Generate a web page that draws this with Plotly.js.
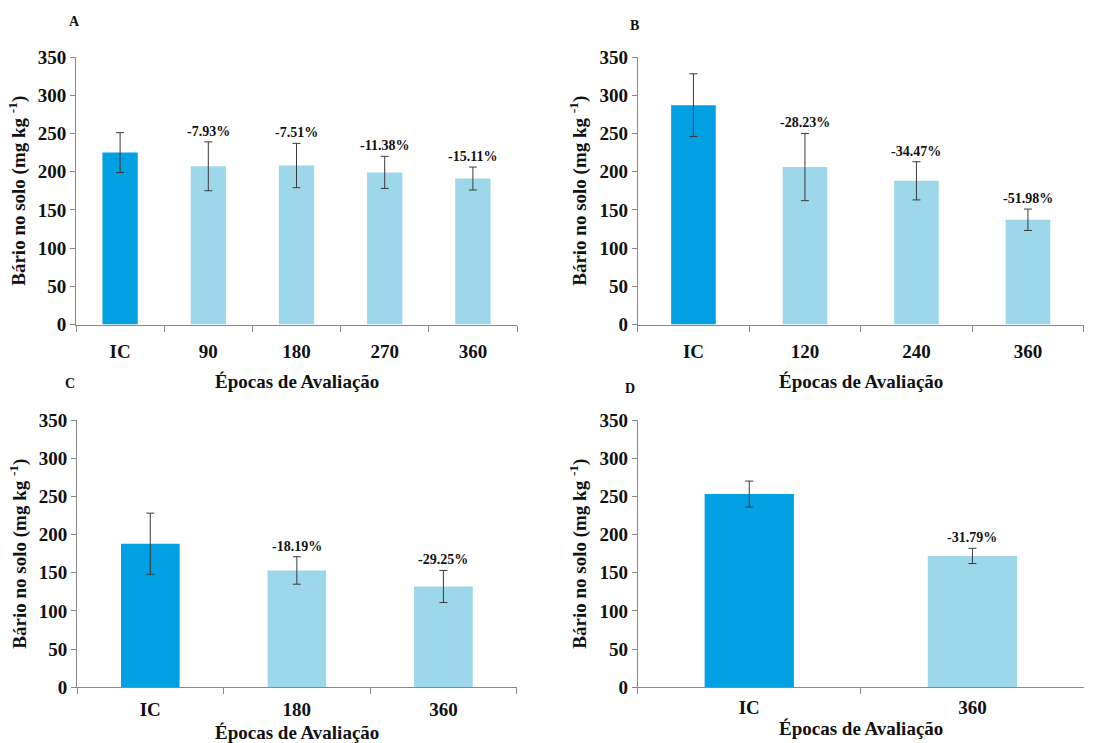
<!DOCTYPE html>
<html>
<head>
<meta charset="utf-8">
<script src="https://cdn.plot.ly/plotly-3.0.1.min.js"></script>
<style>html,body{margin:0;padding:0;background:#fff;}#chart{width:1105px;height:743px;}</style>
</head>
<body>
<div id="chart"></div>
<script>
// Panel A
var catsA = ['IC', '90', '180', '270', '360'];
var valsA = [225, 207, 208, 199, 191];
var errA = [26, 32, 29, 21, 15];
var pctA = ['', '-7.93%', '-7.51%', '-11.38%', '-15.11%'];
// Panel B
var catsB = ['IC', '120', '240', '360'];
var valsB = [287, 206, 188, 137];
var errB = [41, 44, 25, 14];
var pctB = ['', '-28.23%', '-34.47%', '-51.98%'];
// Panel C
var catsC = ['IC', '180', '360'];
var valsC = [188, 153, 132];
var errC = [40, 18, 21];
var pctC = ['', '-18.19%', '-29.25%'];
// Panel D
var catsD = ['IC', '360'];
var valsD = [253, 172];
var errD = [17, 10];
var pctD = ['', '-31.79%'];

var panelLabels = ['A', 'B', 'C', 'D'];
var xTitle = 'Épocas de Avaliação';
var yTitle = 'Bário no solo (mg kg <sup>-1</sup>)';

var DARK = '#00A0E3', LIGHT = '#9DD8EA';
var FONT = 'Liberation Serif, Times New Roman, serif';
var W = 1105, H = 743;

var panels = [
  {cats: catsA, vals: valsA, err: errA, pct: pctA, x0: 76, x1: 517, y0: 57, y1: 324.5, xtY: 381, tstand: 10},
  {cats: catsB, vals: valsB, err: errB, pct: pctB, x0: 637.7, x1: 1083.7, y0: 57, y1: 324.5, xtY: 381, tstand: 10},
  {cats: catsC, vals: valsC, err: errC, pct: pctC, x0: 77, x1: 516.7, y0: 420, y1: 687.3, xtY: 732, tstand: 5},
  {cats: catsD, vals: valsD, err: errD, pct: pctD, x0: 637.7, x1: 1084, y0: 420, y1: 687.3, xtY: 728, tstand: 3}
];
var labelPos = [[74, 21], [634, 25], [70, 383], [630, 388]];

var data = [], annotations = [];
var layout = {
  width: W, height: H,
  margin: {l: 0, r: 0, t: 0, b: 0},
  paper_bgcolor: '#fff', plot_bgcolor: '#fff',
  showlegend: false,
  font: {family: FONT, color: '#111'},
  bargap: 0.6
};

panels.forEach(function (p, i) {
  var sfx = i === 0 ? '' : String(i + 1);
  var xa = 'x' + sfx, ya = 'y' + sfx;
  var colors = p.cats.map(function (c, k) { return k === 0 ? DARK : LIGHT; });
  data.push({
    type: 'bar', x: p.cats, y: p.vals, xaxis: xa, yaxis: ya,
    marker: {color: colors, line: {width: 0}},
    error_y: {type: 'data', array: p.err, visible: true, color: '#3a3a3a', thickness: 1, width: 4},
    hoverinfo: 'x+y'
  });
  layout['xaxis' + sfx] = {
    domain: [p.x0 / W, p.x1 / W], anchor: ya,
    type: 'category', categoryorder: 'array', categoryarray: p.cats,
    range: [-0.5, p.cats.length - 0.5], autorange: false,
    showgrid: false, zeroline: false,
    showline: true, linecolor: '#8a8a8a', linewidth: 1,
    ticks: 'outside', tickson: 'boundaries', ticklen: 6, tickcolor: '#8a8a8a',
    tickangle: 0, ticklabelstandoff: p.tstand,
    tickfont: {family: FONT, size: 19, color: '#111', weight: 'bold'},
    fixedrange: true
  };
  layout['yaxis' + sfx] = {
    domain: [1 - p.y1 / H, 1 - p.y0 / H], anchor: xa,
    range: [0, 350], autorange: false, dtick: 50, tick0: 0, showgrid: false, zeroline: false,
    showline: true, linecolor: '#8a8a8a', linewidth: 1,
    ticks: 'outside', ticklen: 5, tickcolor: '#8a8a8a',
    tickfont: {family: FONT, size: 19, color: '#111', weight: 'bold'},
    title: {text: yTitle, font: {family: FONT, size: 19, color: '#111', weight: 'bold'}, standoff: 7},
    fixedrange: true
  };
  // percentage labels (x given as category index)
  p.cats.forEach(function (c, k) {
    if (!p.pct[k]) return;
    annotations.push({
      xref: xa, yref: ya, x: k, y: p.vals[k] + p.err[k],
      text: p.pct[k], showarrow: false, yanchor: 'bottom', yshift: 1,
      font: {family: FONT, size: 14, color: '#111', weight: 'bold'}
    });
  });
  // x axis title
  annotations.push({
    xref: 'paper', yref: 'paper', x: ((p.x0 + p.x1) / 2) / W, y: 1 - p.xtY / H,
    text: xTitle, showarrow: false, xanchor: 'center', yanchor: 'middle',
    font: {family: FONT, size: 19, color: '#111', weight: 'bold'}
  });
  // panel letter
  annotations.push({
    xref: 'paper', yref: 'paper', x: labelPos[i][0] / W, y: 1 - labelPos[i][1] / H,
    text: panelLabels[i], showarrow: false, xanchor: 'center', yanchor: 'middle',
    font: {family: FONT, size: 14, color: '#111', weight: 'bold'}
  });
});
layout.annotations = annotations;

Plotly.newPlot('chart', data, layout, {displayModeBar: false});
</script>
</body>
</html>
